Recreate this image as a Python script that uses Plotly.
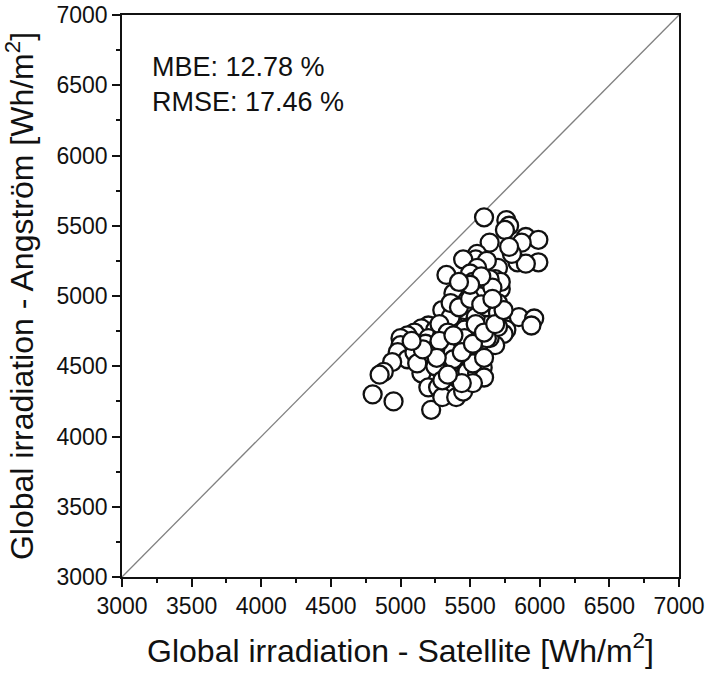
import plotly.graph_objects as go

# satellite (x) vs Angstrom (y) daily global irradiation, Wh/m2
sat = [5600, 5760, 5780, 5750, 5900, 5990, 5870, 5640, 5550, 5540,
       5450, 5330, 5840, 5990, 5900, 5700, 5620, 5550, 5500, 5380,
       5500, 5580, 5650, 5720, 5600, 5480, 5700, 5300, 5400, 5560,
       5660, 5850, 5960, 5940, 5760, 5740, 5480, 5380, 5620, 5200,
       5150, 5250, 5100, 5050, 5000, 5200, 5300, 5450, 5550, 5000,
       4980, 5050, 5100, 5230, 4940, 4880, 4850, 4800, 4950, 5220,
       5150, 5200, 5270, 5300, 5400, 5450, 5400, 5480, 5550, 5590,
       5600, 5520, 5350, 5250, 5420, 5500, 5600, 5680, 5640, 5400,
       5330, 5680, 5720, 5800, 5780, 5640, 5520, 5460, 5360, 5280,
       5180, 5120, 5460, 5540, 5620, 5700, 5580, 5380, 5300, 5250,
       5560, 5660, 5480, 5340, 5440, 5520, 5600, 5360, 5280, 5700,
       5420, 5500, 5580, 5460, 5540, 5620, 5340, 5260, 5380, 5440,
       5520, 5600, 5680, 5740, 5660, 5580, 5500, 5420, 5160, 5080]
ang = [5560, 5540, 5500, 5470, 5420, 5400, 5380, 5380, 5300, 5260,
       5260, 5150, 5240, 5240, 5230, 5200, 5250, 5200, 5160, 5020,
       5050, 5050, 5000, 5050, 4980, 4970, 4950, 4900, 4880, 4900,
       4880, 4850, 4840, 4790, 4760, 4730, 4820, 4800, 4800, 4790,
       4770, 4760, 4740, 4720, 4700, 4700, 4720, 4700, 4750, 4650,
       4600, 4550, 4600, 4580, 4530, 4460, 4440, 4300, 4250, 4190,
       4450, 4350, 4350, 4280, 4280, 4320, 4420, 4460, 4450, 4490,
       4420, 4380, 4500, 4500, 4600, 4560, 4600, 4650, 4700, 4650,
       4620, 5120, 5100, 5300, 5350, 5120, 5100, 4900, 4850, 4800,
       4660, 4520, 4760, 4850, 4920, 4880, 4700, 4550, 4400, 4620,
       5000, 5060, 4640, 4740, 4380, 4520, 4560, 4950, 4680, 4780,
       4920, 4980, 4940, 4700, 4800, 4700, 4440, 4560, 4720, 4600,
       4660, 4740, 4800, 4900, 4980, 5140, 5080, 5100, 4620, 4680]

font_name = "Liberation Sans"
ink = "#111111"

fig = go.Figure()

fig.add_trace(go.Scatter(x=[3000, 7000], y=[3000, 7000], mode="lines",
                         line=dict(color="#808080", width=1.3),
                         hoverinfo="skip", showlegend=False))

fig.add_trace(go.Scatter(x=sat, y=ang, mode="markers",
                         marker=dict(size=18, color="white",
                                     line=dict(color=ink, width=2.3)),
                         showlegend=False))

fig.add_annotation(x=0.05, y=0.937, xref="paper", yref="paper",
                   xanchor="left", yanchor="top", align="left", showarrow=False,
                   text="MBE: 12.78 %<br>RMSE: 17.46 %",
                   font=dict(size=27, color=ink, family=font_name))

axis_style = dict(range=[3000, 7000], dtick=500, ticks="outside", ticklen=8,
                  tickwidth=1.6, tickcolor=ink, automargin=False,
                  ticklabeloverflow="allow",
                  showline=True, linecolor=ink, linewidth=1.6, mirror=True,
                  showgrid=False, zeroline=False,
                  tickfont=dict(size=23, color=ink, family=font_name),
                  minor=dict(dtick=250, ticks="outside", ticklen=4,
                             tickwidth=1.6, tickcolor=ink))

fig.update_xaxes(**axis_style,
                 title=dict(text="Global irradiation - Satellite [Wh/m<sup>2</sup>]",
                            font=dict(size=32, color=ink, family=font_name),
                            standoff=21))
fig.update_yaxes(**axis_style,
                 title=dict(text="Global irradiation - Angström [Wh/m<sup>2</sup>]",
                            font=dict(size=32, color=ink, family=font_name),
                            standoff=14))

fig.update_layout(width=710, height=673,
                  margin=dict(l=122, r=31, t=15, b=96),
                  paper_bgcolor="white", plot_bgcolor="white")

# drop the default 8px page margin so the figure fills the window
fig.write_html("out.html", config={"displayModeBar": False},
               post_script="document.body.style.margin='0';document.body.style.overflow='hidden';")
